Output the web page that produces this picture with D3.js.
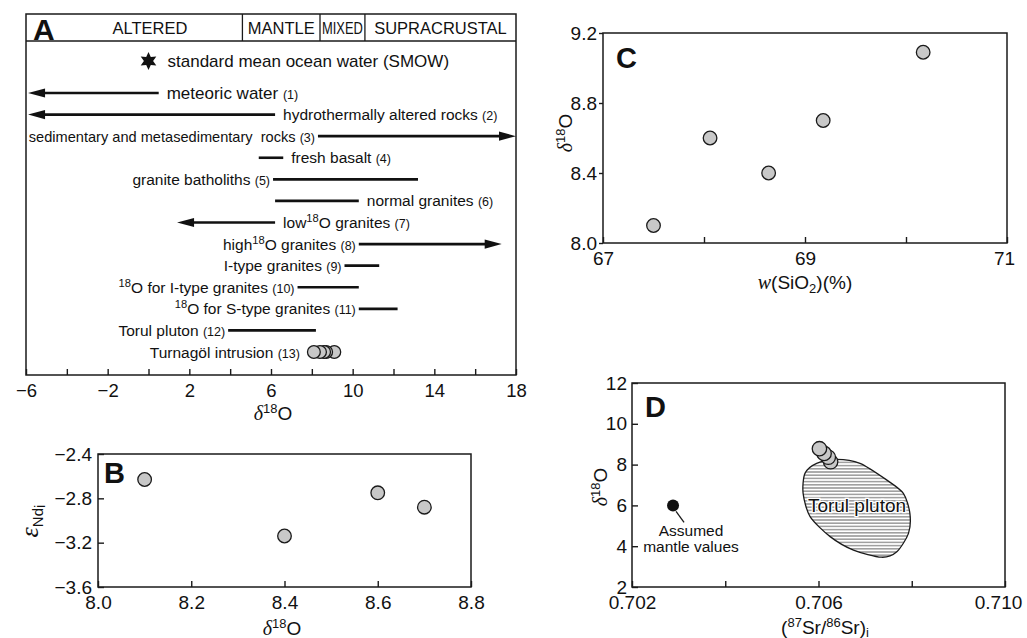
<!DOCTYPE html>
<html lang="en">
<head>
<meta charset="UTF-8">
<title>Oxygen isotope panels</title>
<script src="https://d3js.org/d3.v7.min.js"></script>
<style>
  body { margin: 0; background: #fff; }
  text { font-family: "Liberation Sans", Arial, sans-serif; fill: #111; }
</style>
</head>
<body>
<script>
// ---------- data ----------
// panel A : delta18O ranges of reservoirs
const zoneNames = ["ALTERED", "MANTLE", "MIXED", "SUPRACRUSTAL"];
const zoneBreaks = [4.6, 8.4, 10.6];
const smowO18 = 0;
const rowNames = ["meteoric water", "hydrothermally altered rocks", "sedimentary and metasedimentary  rocks",
  "fresh basalt", "granite batholiths", "normal granites", "low{18}O granites", "high{18}O granites",
  "I-type granites", "{18}O for I-type granites", "{18}O for S-type granites", "Torul pluton", "Turnagöl intrusion"];
const rowRefs = ["(1)", "(2)", "(3)", "(4)", "(5)", "(6)", "(7)", "(8)", "(9)", "(10)", "(11)", "(12)", "(13)"];
const rowFrom = [0.5, 6.2, 8.3, 5.4, 6.1, 6.2, 6.2, 10.3, 9.6, 7.3, 10.3, 3.9, null];
const rowTo   = [-5.9, -5.9, 18, 6.6, 13.2, 10.3, 1.4, 17.3, 11.3, 10.3, 12.2, 8.2, null];
const rowArrow = [true, true, true, false, false, false, true, true, false, false, false, false, false];
const rowLabelSide = ["right", "right", "left", "right", "left", "right", "right", "left", "left", "left", "left", "left", "left"];
const turnagolO18 = [8.1, 8.4, 8.6, 8.7, 9.1];
const aTicks = [-6, -4, -2, 0, 2, 4, 6, 8, 10, 12, 14, 16, 18];
const aLabels = [-6, -2, 2, 6, 10, 14, 18];

// panel B : eNd(i) vs delta18O
const bO18 = [8.1, 8.4, 8.6, 8.7];
const bEpsNd = [-2.63, -3.14, -2.75, -2.88];
const bXTicks = [8.0, 8.2, 8.4, 8.6, 8.8];
const bYTicks = [-3.6, -3.2, -2.8, -2.4];

// panel C : delta18O vs SiO2
const cSiO2 = [67.5, 68.06, 68.64, 69.18, 70.17];
const cO18 = [8.1, 8.6, 8.4, 8.7, 9.09];
const cXTicks = [67, 68, 69, 70, 71];
const cXLabels = [67, 69, 71];
const cYTicks = [8.0, 8.4, 8.8, 9.2];

// panel D : delta18O vs (87Sr/86Sr)i
const dSr = [0.70602, 0.70612, 0.70621, 0.70626];
const dO18 = [8.78, 8.55, 8.36, 8.14];
const mantleSr = 0.70288, mantleO18 = 6.0;
const torulSr  = [0.70639, 0.70689, 0.70746, 0.70782, 0.70796, 0.70793, 0.70768, 0.70735, 0.70675, 0.70625, 0.70582, 0.70567, 0.70571, 0.70596];
const torulO18 = [8.26, 8.06, 7.25, 6.59, 5.61, 4.63, 3.73, 3.46, 3.81, 4.47, 5.45, 6.59, 7.57, 8.06];
const dXTicks = [0.702, 0.704, 0.706, 0.708, 0.710];
const dXLabels = [0.702, 0.706, 0.710];
const dYTicks = [2, 4, 6, 8, 10, 12];

// ---------- svg ----------
const width = 1027, height = 638;
const svg = d3.select("body").append("svg").attr("width", width).attr("height", height);
const FONT = '"Liberation Sans", Arial, sans-serif';
const SERIF = '"Liberation Serif", "DejaVu Serif", serif';
const ink = "#1a1a1a";

const defs = svg.append("defs");
const hatch = defs.append("pattern").attr("id", "hatch").attr("patternUnits", "userSpaceOnUse")
  .attr("width", 6).attr("height", 3.2);
hatch.append("rect").attr("width", 6).attr("height", 3.2).attr("fill", "#fff");
hatch.append("line").attr("x1", 0).attr("x2", 6).attr("y1", 1.6).attr("y2", 1.6)
  .attr("stroke", "#555").attr("stroke-width", 0.9);

function frame(x, y) {
  svg.append("rect")
    .attr("x", x.range()[0]).attr("y", y.range()[1])
    .attr("width", x.range()[1] - x.range()[0]).attr("height", y.range()[0] - y.range()[1])
    .attr("fill", "none").attr("stroke", ink).attr("stroke-width", 1.5);
}

function styleAxis(a, size) {
  a.attr("font-family", FONT).attr("font-size", size);
  a.select(".domain").remove();
  a.selectAll(".tick line").attr("stroke", ink).attr("stroke-width", 1.4);
  a.selectAll(".tick text").attr("fill", "#111");
}

// last label pulled slightly left so it stays inside the page, as in the figure
function xAxis(x, y0, ticks, labels, fmt, size, pad, lastShift) {
  svg.append("g").attr("transform", `translate(0,${y0})`)
    .call(d3.axisBottom(x).tickValues(ticks).tickSize(-6).tickPadding(pad)
      .tickFormat(d => labels.includes(d) ? fmt(d) : ""))
    .call(a => styleAxis(a, size))
    .call(a => a.selectAll(".tick text").filter(d => d === ticks[ticks.length - 1]).attr("dx", -(lastShift || 0)));
}

function yAxis(y, x0, ticks, fmt, inner, pad) {
  svg.append("g").attr("transform", `translate(${x0},0)`)
    .call(d3.axisLeft(y).tickValues(ticks).tickSize(inner).tickPadding(pad).tickFormat(fmt))
    .call(a => styleAxis(a, 19));
}

function deltaO(sel, size) {
  sel.append("tspan").attr("font-family", SERIF).attr("font-style", "italic").attr("font-size", size + 1).text("δ");
  sel.append("tspan").attr("font-size", size * 0.68).attr("baseline-shift", "super").text("18");
  sel.append("tspan").text("O");
}

function panelLetter(t, x, y, size) {
  svg.append("text").attr("x", x).attr("y", y).attr("font-size", size)
    .attr("font-weight", "bold").text(t);
}

// text with {18} superscripts
function richText(sel, str) {
  str.split(/(\{\d+\})/).filter(s => s.length).forEach(s => {
    const m = s.match(/^\{(\d+)\}$/);
    if (m) sel.append("tspan").attr("font-size", "0.72em").attr("baseline-shift", "super").text(m[1]);
    else sel.append("tspan").text(s);
  });
}

function dots(cx, cy, r) {
  svg.append("g").selectAll("circle").data(d3.range(cx.length).reverse()).join("circle")
    .attr("cx", i => cx[i]).attr("cy", i => cy[i]).attr("r", r)
    .attr("fill", "#c8c8c8").attr("stroke", ink).attr("stroke-width", 1.3);
}

// ---------- panel A ----------
const xA = d3.scaleLinear().domain([-6, 18]).range([26, 516]);
const yA = d3.scaleLinear().domain([0, 1]).range([375, 14]);
frame(xA, yA);
const headerY = 41;
svg.append("line").attr("x1", xA(-6)).attr("x2", xA(18)).attr("y1", headerY).attr("y2", headerY)
  .attr("stroke", ink).attr("stroke-width", 1.5);
svg.selectAll(".zoneBreak").data(zoneBreaks).join("line")
  .attr("x1", d => xA(d)).attr("x2", d => xA(d)).attr("y1", 14).attr("y2", headerY)
  .attr("stroke", ink).attr("stroke-width", 1.3);
const zoneEdges = [-6].concat(zoneBreaks, [18]);
zoneNames.forEach((z, i) => {
  const t = svg.append("text")
    .attr("x", i === 0 ? 150 : (xA(zoneEdges[i]) + xA(zoneEdges[i + 1])) / 2)
    .attr("y", 33.5).attr("text-anchor", "middle").attr("font-size", 16.5).text(z);
  if (z === "MIXED") t.attr("textLength", xA(zoneEdges[i + 1]) - xA(zoneEdges[i]) - 4).attr("lengthAdjust", "spacingAndGlyphs");
});
panelLetter("A", 33, 40, 30);

// SMOW star
const starPts = d3.range(12).map(i => {
  const a = i * Math.PI / 6 - Math.PI / 2, r = i % 2 ? 4.6 : 9;
  return [Math.cos(a) * r, Math.sin(a) * r];
});
svg.append("path").attr("d", "M" + starPts.join("L") + "Z")
  .attr("transform", `translate(${xA(smowO18)},61)`).attr("fill", "#111");
svg.append("text").attr("x", xA(smowO18) + 19).attr("y", 67).attr("font-size", 17)
  .text("standard mean ocean water (SMOW)");

const rowY = d3.scalePoint().domain(d3.range(13)).range([93, 352]);
const arrowLen = 17, arrowHalf = 4.6;
rowNames.forEach((name, i) => {
  const y = rowY(i);
  let anchorX;
  if (rowFrom[i] !== null) {
    const x1 = xA(rowFrom[i]), x2 = xA(rowTo[i]);
    const dir = Math.sign(x2 - x1);
    const lineEnd = rowArrow[i] ? x2 - dir * arrowLen + dir : x2;
    svg.append("line").attr("x1", x1).attr("x2", lineEnd).attr("y1", y).attr("y2", y)
      .attr("stroke", "#111").attr("stroke-width", 2.6);
    if (rowArrow[i]) {
      svg.append("path")
        .attr("d", `M${x2},${y}L${x2 - dir * arrowLen},${y - arrowHalf}L${x2 - dir * arrowLen},${y + arrowHalf}Z`)
        .attr("fill", "#111");
    }
    anchorX = rowLabelSide[i] === "right" ? Math.max(x1, x2) + 8 : Math.min(x1, x2) - 3;
  } else {
    const cx = turnagolO18.map(xA);
    dots(cx, cx.map(() => y), 6.4);
    anchorX = d3.min(cx) - 14;
  }
  const t = svg.append("text").attr("x", anchorX).attr("y", y + 5.5)
    .attr("font-size", i === 0 ? 17 : (i === 2 ? 14.6 : 15.5))
    .attr("text-anchor", rowLabelSide[i] === "right" ? "start" : "end")
    .style("white-space", "pre");
  richText(t, name + " ");
  t.append("tspan").attr("font-size", 12.5).text(rowRefs[i]);
});

xAxis(xA, 375, aTicks, aLabels, d3.format("d"), 18.5, 9, 0);
deltaO(svg.append("text").attr("x", 273).attr("y", 420).attr("text-anchor", "middle").attr("font-size", 19), 19);

// ---------- panel B ----------
const xB = d3.scaleLinear().domain([8.0, 8.8]).range([98, 471]);
const yB = d3.scaleLinear().domain([-3.6, -2.4]).range([587, 454]);
frame(xB, yB);
xAxis(xB, 587, bXTicks, bXTicks, d3.format(".1f"), 19, 9, 0);
yAxis(yB, 98, bYTicks, d3.format(".1f"), -6, 6);
panelLetter("B", 104, 483, 29);
dots(bO18.map(xB), bEpsNd.map(yB), 6.8);
deltaO(svg.append("text").attr("x", 282).attr("y", 635).attr("text-anchor", "middle").attr("font-size", 19), 19);
const epsT = svg.append("text").attr("transform", "translate(38,521) rotate(-90)").attr("text-anchor", "middle");
epsT.append("tspan").attr("font-family", SERIF).attr("font-style", "italic").attr("font-size", 26).text("ε");
epsT.append("tspan").attr("font-size", 15).attr("dy", 5).text("Nd");
epsT.append("tspan").attr("font-size", 15).attr("dy", 2).text("i");

// ---------- panel C ----------
const xC = d3.scaleLinear().domain([67, 71]).range([603, 1007]);
const yC = d3.scaleLinear().domain([8.0, 9.2]).range([243, 33]);
frame(xC, yC);
xAxis(xC, 243, cXTicks, cXLabels, d3.format("d"), 19, 9, 3);
yAxis(yC, 603, cYTicks, d3.format(".1f"), 4, 2);
panelLetter("C", 616, 68, 29);
dots(cSiO2.map(xC), cO18.map(yC), 6.8);
const wT = svg.append("text").attr("x", 805).attr("y", 289).attr("text-anchor", "middle").attr("font-size", 19);
wT.append("tspan").attr("font-family", SERIF).attr("font-style", "italic").attr("font-size", 20).text("w");
wT.append("tspan").text("(SiO");
wT.append("tspan").attr("font-size", 13).attr("dy", 4).text("2");
wT.append("tspan").attr("dy", -4).text(")(%)");
deltaO(svg.append("text").attr("transform", "translate(572,133) rotate(-90)").attr("text-anchor", "middle").attr("font-size", 19), 19);

// ---------- panel D ----------
const xD = d3.scaleLinear().domain([0.702, 0.710]).range([632, 1005]);
const yD = d3.scaleLinear().domain([2, 12]).range([587, 383]);
frame(xD, yD);
xAxis(xD, 587, dXTicks, dXLabels, d3.format(".3f"), 19, 9, 7);
yAxis(yD, 632, dYTicks, d3.format("d"), -6, 5);
panelLetter("D", 645, 417, 29);

const blob = d3.line().x(i => xD(torulSr[i])).y(i => yD(torulO18[i])).curve(d3.curveCardinalClosed.tension(0.2));
svg.append("path").attr("d", blob(d3.range(torulSr.length)))
  .attr("fill", "url(#hatch)").attr("stroke", ink).attr("stroke-width", 1.3);
svg.append("text").attr("x", 857).attr("y", 512).attr("text-anchor", "middle").attr("font-size", 19)
  .attr("stroke", "#fff").attr("stroke-width", 2.5).attr("paint-order", "stroke").text("Torul pluton");
dots(dSr.map(xD), dO18.map(yD), 7.2);

svg.append("circle").attr("cx", xD(mantleSr)).attr("cy", yD(mantleO18)).attr("r", 6).attr("fill", "#111");
svg.append("line").attr("x1", xD(mantleSr) + 3).attr("y1", yD(mantleO18) + 6)
  .attr("x2", xD(mantleSr) + 11).attr("y2", yD(mantleO18) + 17).attr("stroke", ink).attr("stroke-width", 1.3);
svg.append("text").attr("x", 691).attr("y", 536).attr("text-anchor", "middle").attr("font-size", 15.5).text("Assumed");
svg.append("text").attr("x", 691).attr("y", 552).attr("text-anchor", "middle").attr("font-size", 15.5).text("mantle values");

const srT = svg.append("text").attr("x", 825).attr("y", 634).attr("text-anchor", "middle").attr("font-size", 19);
srT.append("tspan").text("(");
srT.append("tspan").attr("font-size", 13).attr("baseline-shift", "super").text("87");
srT.append("tspan").text("Sr/");
srT.append("tspan").attr("font-size", 13).attr("baseline-shift", "super").text("86");
srT.append("tspan").text("Sr)");
srT.append("tspan").attr("font-size", 13).attr("dy", 3).text("i");
deltaO(svg.append("text").attr("transform", "translate(607,487) rotate(-90)").attr("text-anchor", "middle").attr("font-size", 19), 19);
</script>
</body>
</html>
